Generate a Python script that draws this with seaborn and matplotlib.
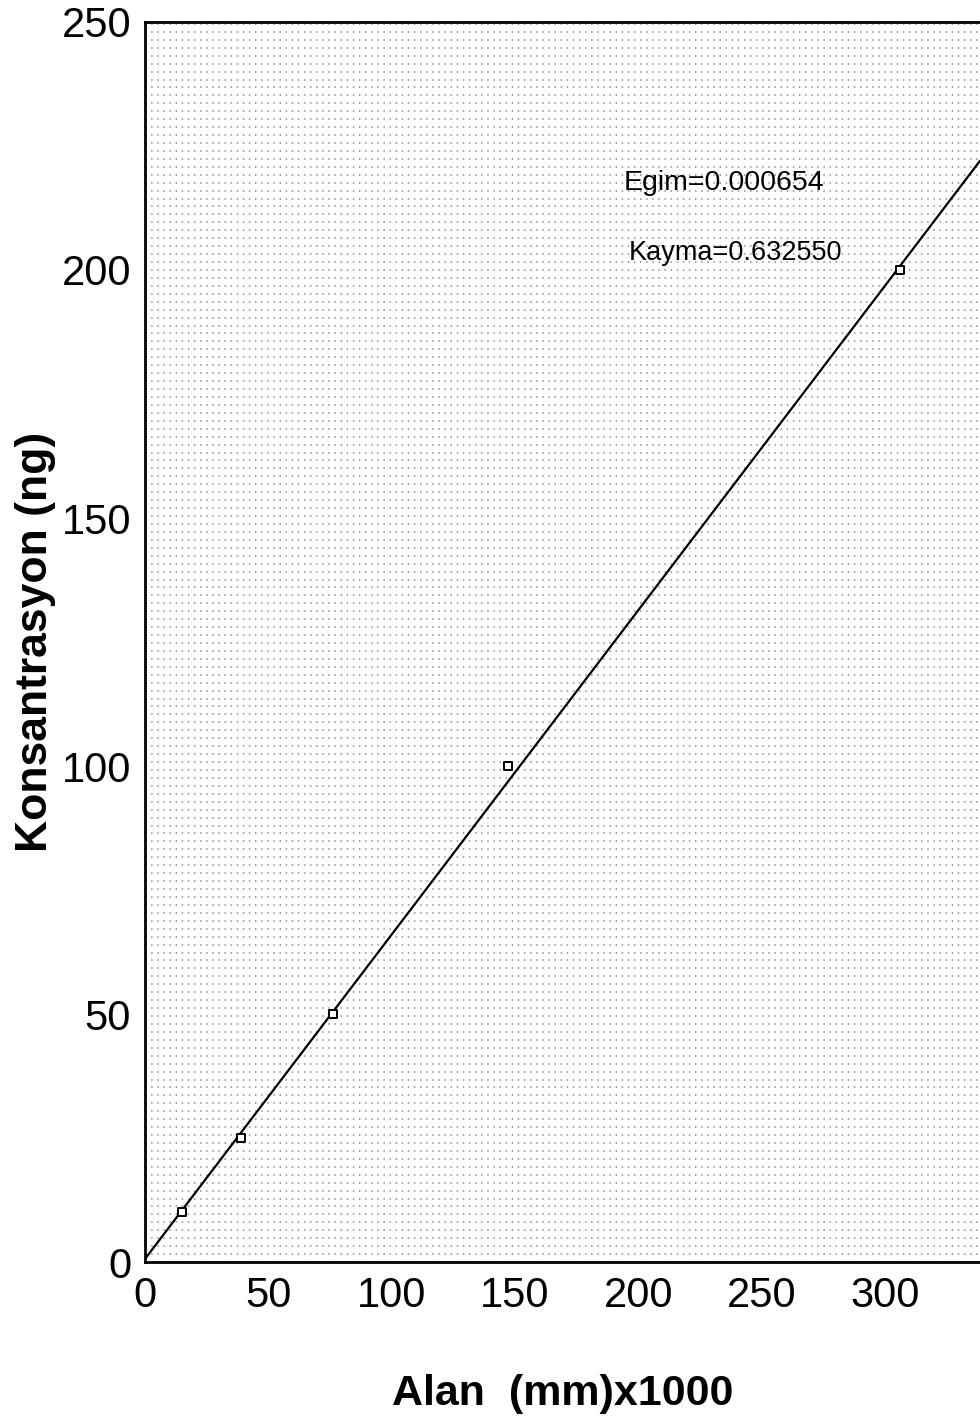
import numpy as np
import pandas as pd
import matplotlib
matplotlib.use("Agg")
import matplotlib.pyplot as plt
import seaborn as sns
from matplotlib.ticker import MultipleLocator

# Calibration data
alan = [15, 39, 76, 147, 306]          # Alan (mm) x1000
konsantrasyon = [10, 25, 50, 100, 200]  # ng

# fit parameters printed on the chart (slope per mm -> per 1000 mm)
egim = 0.000654
kayma = 0.632550

sns.set_style("white")
plt.rcParams["font.family"] = ["Liberation Sans", "DejaVu Sans"]
plt.rcParams["text.color"] = "black"
plt.rcParams["axes.labelcolor"] = "black"
plt.rcParams["xtick.color"] = "black"
plt.rcParams["ytick.color"] = "black"

df = pd.DataFrame({"alan": alan, "konsantrasyon": konsantrasyon})

fig = plt.figure(figsize=(9.8, 14.27), dpi=100)
pos = [0.148, 0.1156, 0.852, 0.869]

# background: dot-matrix style horizontal rows
bg = fig.add_axes(pos, zorder=0)
bg.set_xlim(0, 338.5)
bg.set_ylim(0, 250)
bg.yaxis.set_major_locator(MultipleLocator(1.6))
bg.grid(True, axis="y", color="black", linestyle=(0, (1, 3)), linewidth=1.1, alpha=0.45)
bg.tick_params(left=False, bottom=False, labelleft=False, labelbottom=False)
for s in bg.spines.values():
    s.set_visible(False)

ax = fig.add_axes(pos, zorder=1)
ax.patch.set_alpha(0)

x_line = np.linspace(0, 338.5, 50)
y_line = egim * 1000 * x_line + kayma
sns.lineplot(x=x_line, y=y_line, ax=ax, color="black", linewidth=1.6)
sns.scatterplot(data=df, x="alan", y="konsantrasyon", ax=ax, marker="s", s=28,
                facecolor="white", edgecolor="black", linewidth=1.4, zorder=3)

ax.set_xlim(0, 338.5)
ax.set_ylim(0, 250)
ax.xaxis.set_major_locator(MultipleLocator(50))
ax.xaxis.set_minor_locator(MultipleLocator(10))
ax.yaxis.set_major_locator(MultipleLocator(50))
ax.yaxis.set_minor_locator(MultipleLocator(10))
ax.tick_params(which="major", direction="in", length=18, width=2, labelsize=30, pad=10)
ax.tick_params(which="minor", direction="in", length=9, width=1.6)
ax.tick_params(top=False, right=False)
for side in ["left", "bottom", "top"]:
    ax.spines[side].set_linewidth(2)
    ax.spines[side].set_color("black")
ax.spines["right"].set_visible(False)

ax.set_xlabel("Alan  (mm)x1000", fontsize=31, fontweight="bold", labelpad=42)
ax.set_ylabel("Konsantrasyon (ng)", fontsize=32, fontweight="bold", labelpad=4)

ax.text(194, 217.5, f"Egim={egim:.6f}", fontsize=20.5, va="center", ha="left")
ax.text(196, 203.5, f"Kayma={kayma:.6f}", fontsize=19.5, va="center", ha="left")

fig.savefig("out.png", dpi=100)
